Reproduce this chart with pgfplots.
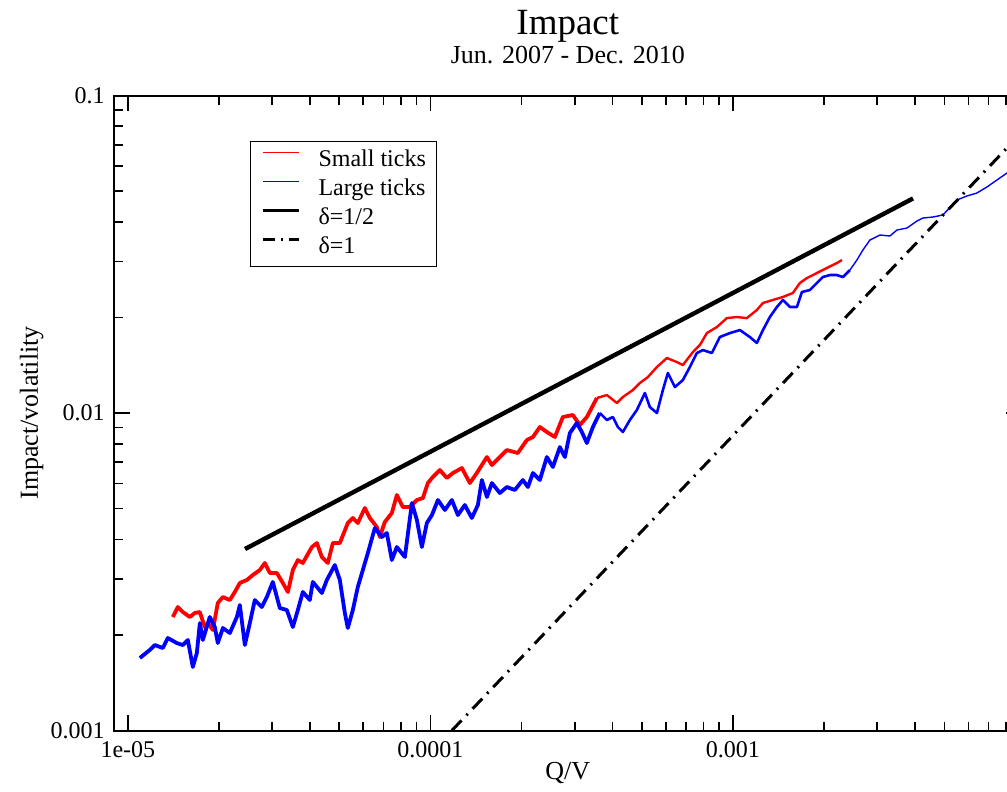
\documentclass[border=0pt]{standalone}
\usepackage{fontspec}
\setmainfont{Liberation Serif}
\usepackage{pgfplots}
\pgfplotsset{compat=1.18}
\usetikzlibrary{calc}

\begin{document}
\begin{tikzpicture}
\begin{axis}[
  name=main,
  scale only axis,
  width=453.8pt, height=317.5pt,
  xmode=log, ymode=log,
  xmin=9e-6, xmax=9e-3,
  ymin=0.001, ymax=0.1,
  xtick={1e-5,1e-4,1e-3},
  xticklabels={1e-05,0.0001,0.001},
  minor xtick={2e-5,3e-5,4e-5,5e-5,6e-5,7e-5,8e-5,9e-5,2e-4,3e-4,4e-4,5e-4,6e-4,7e-4,8e-4,9e-4,2e-3,3e-3,4e-3,5e-3,6e-3,7e-3,8e-3},
  ytick={0.001,0.01,0.1},
  yticklabels={0.001,0.01,0.1},
  minor ytick={0.002,0.003,0.004,0.005,0.006,0.007,0.008,0.009,0.02,0.03,0.04,0.05,0.06,0.07,0.08,0.09},
  ticklabel style={font=\fontsize{12}{14}\selectfont},
  xticklabel style={anchor=north, inner sep=0pt, yshift=-5.5pt},
  yticklabel style={anchor=east, inner sep=0pt, xshift=-4.5pt},
  axis line style={line width=1pt},
  tick style={black, line width=0.8pt},
  major tick length=8pt, minor tick length=4.5pt,
  legend style={at={(0.1498,0.9283)}, anchor=north west, draw=black,
    line width=0.6pt, font=\fontsize{12}{14.5}\selectfont,
    inner xsep=5.5pt, inner ysep=2.2pt, row sep=0pt,
    nodes={inner sep=0pt, text height=10pt, text depth=4.5pt, anchor=west},
    /tikz/every odd column/.append style={column sep=9pt}},
  legend cell align=left,
  legend image code/.code={\draw[#1] (0pt,3.8pt) -- (18pt,3.8pt);},
]
\addlegendimage{red, line width=0.5pt}
\addlegendentry{Small ticks}
\addlegendimage{blue, line width=0.5pt}
\addlegendentry{Large ticks}
\addlegendimage{black, line width=1.5pt}
\addlegendentry{δ=1/2}
\addlegendimage{black, line width=1.5pt, dash pattern=on 6pt off 3pt on 1pt off 3pt}
\addlegendentry{δ=1}

% small ticks
\addplot[red, line width=1.9pt, line join=round, forget plot] coordinates {
(1.409e-5,2.278e-3) (1.463e-5,2.449e-3) (1.520e-5,2.361e-3) (1.603e-5,2.278e-3) (1.665e-5,2.345e-3)
(1.730e-5,2.361e-3) (1.797e-5,2.118e-3) (1.839e-5,2.181e-3) (1.910e-5,2.073e-3) (1.984e-5,2.521e-3)
(2.061e-5,2.633e-3) (2.174e-5,2.576e-3) (2.258e-5,2.731e-3) (2.346e-5,2.916e-3) (2.474e-5,2.979e-3)
(2.590e-5,3.089e-3) (2.731e-5,3.203e-3) (2.837e-5,3.370e-3) (2.947e-5,3.134e-3) (3.109e-5,3.134e-3)
(3.254e-5,2.916e-3) (3.381e-5,2.731e-3) (3.512e-5,3.203e-3) (3.648e-5,3.443e-3) (3.789e-5,3.370e-3)
(4.058e-5,3.784e-3) (4.216e-5,3.896e-3) (4.379e-5,3.520e-3) (4.583e-5,3.370e-3) (4.761e-5,3.896e-3)
(5.021e-5,3.896e-3) (5.336e-5,4.503e-3) (5.543e-5,4.670e-3) (5.757e-5,4.503e-3) (6.074e-5,5.021e-3)
(6.310e-5,4.670e-3) (6.655e-5,4.375e-3) (6.808e-5,4.069e-3) (7.072e-5,4.537e-3) (7.460e-5,4.842e-3)
(7.750e-5,5.517e-3) (8.111e-5,5.057e-3) (8.551e-5,5.057e-3) (9.025e-5,5.321e-3) (9.445e-5,5.398e-3)
(9.811e-5,6.018e-3) (1.019e-4,6.287e-3) (1.075e-4,6.614e-3) (1.134e-4,6.242e-3) (1.187e-4,6.471e-3)
(1.271e-4,6.711e-3) (1.351e-4,6.018e-3) (1.424e-4,6.471e-3) (1.538e-4,7.267e-3) (1.597e-4,6.858e-3)
(1.697e-4,7.267e-3) (1.790e-4,7.646e-3) (1.946e-4,7.482e-3) (2.085e-4,8.222e-3) (2.183e-4,8.402e-3)
(2.301e-4,9.035e-3) (2.427e-4,8.714e-3) (2.580e-4,8.402e-3) (2.742e-4,9.714e-3) (2.958e-4,9.856e-3)
(3.120e-4,9.166e-3) (3.291e-4,9.714e-3) (3.551e-4,1.115e-2)
};
\addplot[red, line width=1.2pt, line join=round, forget plot] coordinates {
(3.551e-4,1.115e-2) (3.833e-4,1.139e-2) (4.136e-4,1.075e-2) (4.329e-4,1.123e-2) (4.670e-4,1.181e-2)
(4.926e-4,1.243e-2) (5.236e-4,1.298e-2) (5.608e-4,1.396e-2) (6.051e-4,1.490e-2) (6.530e-4,1.447e-2)
(6.834e-4,1.416e-2) (7.376e-4,1.556e-2) (7.780e-4,1.637e-2) (8.204e-4,1.786e-2) (8.855e-4,1.866e-2)
(9.554e-4,1.991e-2) (1.031e-3,2.006e-2) (1.112e-3,1.991e-2) (1.200e-3,2.111e-2) (1.257e-3,2.221e-2)
(1.356e-3,2.270e-2) (1.463e-3,2.320e-2) (1.579e-3,2.388e-2) (1.665e-3,2.567e-2) (1.757e-3,2.662e-2)
(1.895e-3,2.760e-2) (2.045e-3,2.862e-2) (2.207e-3,2.968e-2) (2.293e-3,3.033e-2)
};

% large ticks
\addplot[blue, line width=1.9pt, line join=round, forget plot] coordinates {
(1.096e-5,1.692e-3) (1.182e-5,1.793e-3) (1.228e-5,1.859e-3) (1.305e-5,1.819e-3) (1.356e-5,1.956e-3)
(1.452e-5,1.886e-3) (1.520e-5,1.859e-3) (1.579e-5,1.928e-3) (1.640e-5,1.585e-3) (1.691e-5,1.754e-3)
(1.730e-5,2.181e-3) (1.770e-5,1.928e-3) (1.866e-5,2.278e-3) (1.939e-5,2.118e-3) (1.984e-5,1.886e-3)
(2.061e-5,2.103e-3) (2.174e-5,2.028e-3) (2.293e-5,2.278e-3) (2.346e-5,2.485e-3) (2.437e-5,1.859e-3)
(2.531e-5,2.181e-3) (2.629e-5,2.576e-3) (2.773e-5,2.449e-3) (2.881e-5,2.633e-3) (3.015e-5,2.937e-3)
(3.180e-5,2.431e-3) (3.355e-5,2.396e-3) (3.512e-5,2.118e-3) (3.648e-5,2.396e-3) (3.789e-5,2.731e-3)
(3.996e-5,2.576e-3) (4.088e-5,2.937e-3) (4.379e-5,2.711e-3) (4.549e-5,2.979e-3) (4.833e-5,3.321e-3)
(5.021e-5,2.979e-3) (5.216e-5,2.345e-3) (5.336e-5,2.103e-3) (5.543e-5,2.396e-3) (5.757e-5,2.831e-3)
(5.982e-5,3.203e-3) (6.215e-5,3.623e-3) (6.555e-5,4.344e-3) (6.914e-5,4.069e-3) (7.182e-5,4.188e-3)
(7.460e-5,3.443e-3) (7.750e-5,3.784e-3) (8.238e-5,3.520e-3) (8.689e-5,5.206e-3) (9.025e-5,4.603e-3)
(9.374e-5,3.784e-3) (9.737e-5,4.503e-3) (1.012e-4,4.772e-3) (1.059e-4,5.321e-3) (1.117e-4,4.949e-3)
(1.178e-4,5.321e-3) (1.233e-4,4.772e-3) (1.300e-4,5.131e-3) (1.371e-4,4.670e-3) (1.436e-4,5.131e-3)
(1.480e-4,6.152e-3) (1.538e-4,5.438e-3) (1.597e-4,6.018e-3) (1.697e-4,5.598e-3) (1.790e-4,5.847e-3)
(1.902e-4,5.722e-3) (2.022e-4,6.152e-3) (2.101e-4,5.847e-3) (2.183e-4,6.471e-3) (2.301e-4,6.152e-3)
(2.427e-4,7.267e-3) (2.541e-4,6.760e-3) (2.680e-4,7.814e-3) (2.784e-4,7.267e-3) (2.892e-4,8.650e-3)
(3.050e-4,9.301e-3) (3.168e-4,8.714e-3) (3.291e-4,8.044e-3) (3.445e-4,9.035e-3) (3.633e-4,1.000e-2)
};
\addplot[blue, line width=1.3pt, line join=round, forget plot] coordinates {
(3.633e-4,1.000e-2) (3.833e-4,9.506e-3) (4.011e-4,9.714e-3) (4.167e-4,9.035e-3) (4.329e-4,8.714e-3)
(4.566e-4,9.506e-3) (4.815e-4,1.022e-2) (5.118e-4,1.156e-2) (5.317e-4,1.044e-2) (5.608e-4,1.000e-2)
(5.870e-4,1.181e-2) (6.097e-4,1.337e-2) (6.431e-4,1.207e-2) (6.834e-4,1.270e-2) (7.209e-4,1.396e-2)
(7.603e-4,1.545e-2) (7.958e-4,1.579e-2) (8.521e-4,1.545e-2) (9.057e-4,1.735e-2) (9.774e-4,1.786e-2)
(1.055e-3,1.825e-2) (1.138e-3,1.735e-2) (1.200e-3,1.662e-2) (1.257e-3,1.825e-2) (1.325e-3,2.006e-2)
(1.398e-3,2.158e-2) (1.463e-3,2.270e-2) (1.543e-3,2.158e-2) (1.628e-3,2.158e-2) (1.691e-3,2.405e-2)
(1.797e-3,2.440e-2) (1.895e-3,2.567e-2) (1.984e-3,2.681e-2) (2.093e-3,2.720e-2) (2.207e-3,2.720e-2)
(2.310e-3,2.681e-2) (2.437e-3,2.821e-2)
};
\addplot[blue, line width=0.7pt, line join=round, forget plot] coordinates {
(2.437e-3,2.821e-2) (2.570e-3,3.033e-2) (2.690e-3,3.262e-2) (2.837e-3,3.506e-2) (3.062e-3,3.636e-2)
(3.304e-3,3.610e-2) (3.484e-3,3.770e-2) (3.761e-3,3.825e-2) (4.058e-3,4.024e-2) (4.248e-3,4.113e-2)
(4.583e-3,4.143e-2) (4.945e-3,4.204e-2) (5.502e-3,4.687e-2) (5.937e-3,4.825e-2) (6.407e-3,4.931e-2)
(6.914e-3,5.150e-2) (7.460e-3,5.418e-2) (8.050e-3,5.700e-2) (9.0e-3,6.0e-2)
};

% slopes
\addplot[black, line width=2.2pt, forget plot] coordinates {(2.44e-5,3.73e-3) (3.94e-3,0.0474)};
\addplot[black, line width=1.5pt, dash pattern=on 7pt off 3.5pt on 1pt off 3.5pt, forget plot]
  coordinates {(1.178e-4,0.001) (9e-3,0.0764)};
\end{axis}

\node[anchor=base, font=\fontsize{18.5}{20}\selectfont] at ($(main.north)+(0,30.25pt)$) {Impact};
\node[anchor=base, font=\fontsize{13}{15}\selectfont] at ($(main.north)+(0,16pt)$) {Jun. 2007 - Dec. 2010};
\node[anchor=base, font=\fontsize{13}{15}\selectfont] at ($(main.south)+(0,-24.75pt)$) {Q/V};
\node[anchor=base, rotate=90, font=\fontsize{13}{15}\selectfont] at ($(main.west)+(-38pt,0)$) {Impact/volatility};

\pgfresetboundingbox
\path[use as bounding box] ($(main.south west)+(-57pt,-30.75pt)$) rectangle ($(main.north west)+(446.5pt,47.75pt)$);
\end{tikzpicture}
\end{document}
